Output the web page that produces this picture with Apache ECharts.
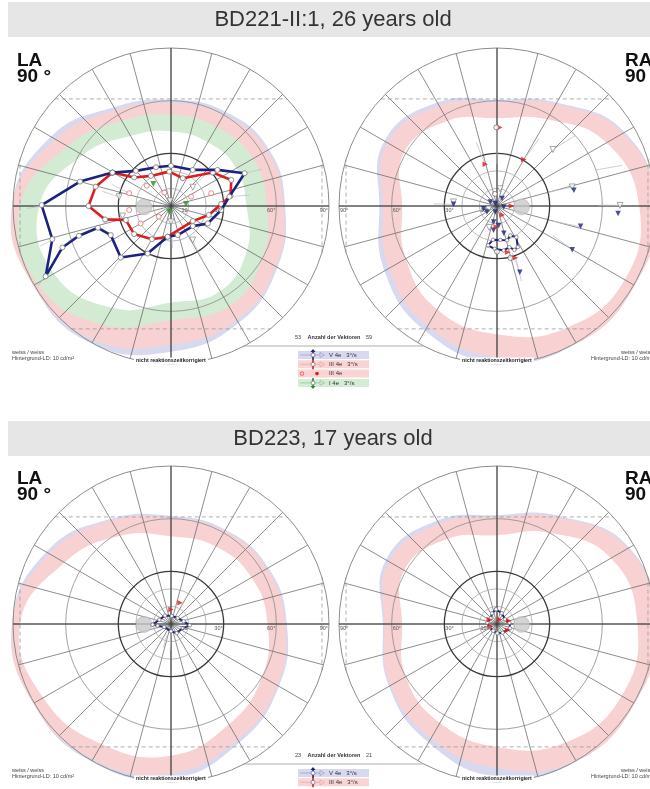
<!DOCTYPE html>
<html><head><meta charset="utf-8">
<script src="https://cdn.jsdelivr.net/npm/echarts/dist/echarts.min.js"></script>
<style>html,body{margin:0;padding:0;background:#fff}#c{width:650px;height:789px}</style>
</head><body><div id="c"></div>
<script>
// ---------------- DATA ----------------
const panelTitles = ['BD221-II:1, 26 years old', 'BD223, 17 years old'];
const eyeNames = ['LA', 'RA', 'LA', 'RA'];
const eyeDegreeText = '90 °';
const ringDegrees = [10, 20, 30, 60];
const ringLabelValues = [10, 30, 60, 90];
const ringLabelTexts = ['10', '30°', '60°', '90°'];
const vectorCounts = [[53, 59], [23, 21]];
const vectorCountTitle = 'Anzahl der Vektoren';
const stimulusLegend = ['V 4e   3°/s', 'III 4e   3°/s', 'III 4e', 'I 4e   3°/s'];
const methodText = ['weiss / weiss', 'Hintergrund-LD: 10 cd/m²'];
const correctionText = 'nicht reaktionszeitkorrigiert';
const limitUp = 61, limitDown = 70, limitSide = 86;

// normal-range bands: eccentricity (deg) at each meridian of bandAngles
const bandAngles = [0, 30, 60, 90, 120, 150, 180, 210, 240, 270, 300, 330];
const tlBlue  = [65, 64.5, 62, 60.5, 65, 79, 95, 100, 94, 83, 77, 70];
const tlPink  = [64, 63, 60, 58.7, 63, 76, 92, 96, 88, 79, 75, 69];
const tlGreen = [54.5, 54, 52, 52, 56, 68, 86, 88, 78, 65, 66, 60];
const tlWhite = [43, 43, 42, 42.5, 46, 58, 75, 77, 67, 55, 56, 50];
const trBlue  = [96, 84, 68, 60.5, 68, 74, 67, 74, 82, 89, 95, 98];
const trPink  = [95, 83, 67, 59, 66, 72, 65, 71, 79, 86, 92, 96];
const trWhite = [81, 72, 57, 50, 56, 61, 54, 60, 68, 73, 80, 84];
const blBlue  = [66, 64, 62, 61.5, 69, 82, 98, 99, 93, 88, 78, 71];
const blPink  = [65, 63, 61, 60.5, 68, 80, 96, 95, 89, 85, 76, 70];
const blWhite = [55, 53, 51, 50, 58, 70, 86, 84, 79, 75, 66, 60];
const brBlue  = [95, 87, 71, 62, 68, 73, 65, 71, 78, 87, 95, 97];
const brPink  = [94, 86, 70, 61, 66, 71, 64, 70, 75, 82, 90, 95];
const brWhite = [80, 75, 60, 50.5, 56, 61, 54, 60, 65, 70, 78, 82];

// isopters [eccentricity deg, meridian deg]
const tlV4e = [[38.4,150.3],[28.3,135],[23.7,111.2],[22.9,90],[24,58.9],[33.5,37.9],[45.9,24],[33.7,9.1],[28.7,355.4],[23.2,334.7],[16.9,317.3],[17,283],[17.6,263.8],[30.2,243.8],[41,225.7],[38.1,205.8],[43.4,196.6],[55.1,197.9],[66.2,200.9],[81.9,209.3],[70.2,195.6],[73.7,179.6],[53.7,165]];
const tlIII4e = [[38.4,150.3],[26.5,142.3],[20.6,123.7],[19.6,92.8],[17.2,67.1],[30.5,38.6],[37.4,23.4],[34.4,9.6],[28.6,2.3],[22.1,346.6],[15.1,325.3],[17.6,263.8],[21.8,240.1],[26.4,217.3],[26.9,197.3],[38.3,191.5],[47,180],[44.3,165.6]];
const trV4e = [[23,257.1],[19.4,263.2],[19.4,275.6],[20.4,286.3],[18.4,294.4],[20.9,301.9],[26.2,296.8],[26.9,291.6],[24.5,286.7],[25.6,278.6],[24.4,266.9]];
const blV4e = [[10.5,182],[7.1,159.8],[5.9,125.8],[4.6,85],[5.1,41.8],[7.4,12],[10.7,356],[7.1,341],[6.1,302.3],[4.2,270],[4.2,204],[7.7,187]];
const brV4e = [[8.4,93.9],[6.7,115],[4.9,138],[5.6,172],[4.8,203],[4.4,241],[5.3,272],[5.9,303],[7.8,341.7],[7.1,6],[5.3,30],[6.7,66.3]];

// blind spots
const blindSpots = [[15.4,182],[14,358],[15.4,181],[14,359]];

// single vectors / stimuli
const tlHollowTri = [[30,169.8],[16.4,40.7],[28.2,191.7],[9,270],[23,302.5],[3,100]];
const tlRedRings = [[24.9,163],[8.5,116.7],[12.6,25],[24,17.6],[9.3,221],[23.9,185.5],[18,140],[20,210]];
const tlGreenTri = [[16.1,128.8],[8.6,7.6],[3.4,253]];
const trBlueTri = [[44.7,11.6],[69.1,356.4],[49,346.3],[49.6,329.8],[39.9,289],[24.8,177.8],[4.4,149],[1.7,126],[7.8,191.5],[6.7,211],[3.6,254],[5.1,55.6],[3.9,351.5],[9.3,258],[11.1,275],[14,262],[16,284]];
const trRedTri = [[44.8,88],[30.6,60],[24.7,105.7],[8.2,0],[31.3,289.5],[6,300],[12,268],[27,283]];
const trWhiteDots = [[44.8,90.5],[30.5,284.4],[7,100],[26,270]];
const trHollowTri = [[45.3,45.3],[70.1,0.3],[24.9,174.7],[44.2,14.2],[10,80],[5,200],[13,250]];
const blRedTri = [[8.2,90],[13.1,66.8]];
const brRedTri = [[5,150],[4,200],[7,15],[7,330],[3,60]];
// vector traces [ecc1, mer1, ecc2, mer2]
const tlVectors = [[46,24,56,22],[73.7,180,82,181],[82,209,88,211],[30,170,40,168],[16.4,41,30,43],[23,302,38,300],[9,270,24,272],[28.2,192,40,194],[25,163,36,160],[33.7,9,45,8],[41,226,52,228],[54,197,62,199],[70,196,78,197]];
const trVectors = [[44.8,90,24,90],[45.3,45.3,60,42],[70.1,0.3,58,0.5],[44.2,14.2,30,15],[49,346,33,345],[49.6,330,36,332],[39.9,289,28,288],[24.8,178,36,178],[30.6,60,45,58],[24.7,106,38,108],[60,20,75,18],[31,290,45,288]];
const blVectors = [[5,270,15,268],[6,250,14,252]];
const brVectors = [[4,200,9,205]];

// ---------------- LAYOUT ----------------
const CENTERS = [[171,206],[497,206],[171,624],[497,624]];
const R = 158, MAXDEG = 90;
const NAVY = '#1b2380', RED = '#e01b1b', GREEN = '#2a8f2a';
const FONT = '"Liberation Sans", Arial, sans-serif';

const panels = [
  {bands:[[tlBlue,'#d8d8ef'],[tlPink,'#f8d2d2'],[tlGreen,'#d3ebd3'],[tlWhite,'#ffffff']], V4e:tlV4e, III4e:tlIII4e, vectors:tlVectors,
   scat:[[tlHollowTri,'hollowTri'],[tlRedRings,'redRing'],[tlGreenTri,'greenTri']]},
  {bands:[[trBlue,'#d8d8ef'],[trPink,'#f8d2d2'],[trWhite,'#ffffff']], V4e:trV4e, vectors:trVectors,
   scat:[[trHollowTri,'hollowTri'],[trBlueTri,'blueTri'],[trRedTri,'redTri'],[trWhiteDots,'whiteDot']]},
  {bands:[[blBlue,'#d8d8ef'],[blPink,'#f8d2d2'],[blWhite,'#ffffff']], V4e:blV4e, vectors:blVectors,
   scat:[[blRedTri,'redTri']]},
  {bands:[[brBlue,'#d8d8ef'],[brPink,'#f8d2d2'],[brWhite,'#ffffff']], V4e:brV4e, vectors:brVectors,
   scat:[[brRedTri,'redTri']]}
];

const scatStyles = {
  hollowTri:{symbol:'triangle', rot:180, size:6, item:{color:'#fff', borderColor:'#777', borderWidth:0.8}},
  redRing:{symbol:'circle', rot:0, size:5, item:{color:'#fff', borderColor:'#e56060', borderWidth:0.9}},
  greenTri:{symbol:'triangle', rot:180, size:6, item:{color:GREEN}},
  blueTri:{symbol:'triangle', rot:180, size:5.5, item:{color:NAVY}},
  redTri:{symbol:'triangle', rot:-90, size:5.5, item:{color:RED}},
  whiteDot:{symbol:'circle', rot:0, size:5, item:{color:'#fff', borderColor:'#555', borderWidth:0.8}}
};

function toPolar(x, y){ const r=Math.hypot(x,y); let a=Math.atan2(y,x)*180/Math.PI; if(a<0)a+=360; return [r,a]; }
function closeRing(arr){ return arr.concat([arr[0]]); }

const series = [];
panels.forEach((p, pi) => {
  // bands
  series.push({type:'custom', coordinateSystem:'polar', polarIndex:pi, z:1, silent:true,
    data:p.bands.map((b,i)=>[i,0]),
    renderItem:(params, api)=>{
      const b = p.bands[params.dataIndex];
      const pts = bandAngles.map((a,k)=>api.coord([Math.min(b[0][k], 90.5), a]));
      return {type:'polygon', z2:params.dataIndex, shape:{points:pts, smooth:0.45}, style:{fill:b[1]}};
    }});
  // dashed limit chords
  const chords = [
    [-Math.sqrt(MAXDEG*MAXDEG-limitUp*limitUp), limitUp, Math.sqrt(MAXDEG*MAXDEG-limitUp*limitUp), limitUp],
    [-Math.sqrt(MAXDEG*MAXDEG-limitDown*limitDown), -limitDown, Math.sqrt(MAXDEG*MAXDEG-limitDown*limitDown), -limitDown],
    [limitSide, -Math.sqrt(MAXDEG*MAXDEG-limitSide*limitSide), limitSide, Math.sqrt(MAXDEG*MAXDEG-limitSide*limitSide)],
    [-limitSide, -Math.sqrt(MAXDEG*MAXDEG-limitSide*limitSide), -limitSide, Math.sqrt(MAXDEG*MAXDEG-limitSide*limitSide)]
  ];
  series.push({type:'custom', coordinateSystem:'polar', polarIndex:pi, z:2, silent:true,
    data:chords.map((c,i)=>[i,0]),
    renderItem:(params, api)=>{
      const c = chords[params.dataIndex];
      const a = api.coord(toPolar(c[0],c[1])), b = api.coord(toPolar(c[2],c[3]));
      return {type:'line', shape:{x1:a[0],y1:a[1],x2:b[0],y2:b[1]}, style:{stroke:'#9a9a9a', lineWidth:0.8, lineDash:[4,3]}};
    }});
  // ring circles + main cross
  series.push({type:'custom', coordinateSystem:'polar', polarIndex:pi, z:3, silent:true,
    data:ringDegrees.map(d=>[d,0]).concat([[MAXDEG,0],[MAXDEG,90],[MAXDEG,180],[MAXDEG,270]]),
    renderItem:(params, api)=>{
      const c = api.coord([0,0]);
      if (params.dataIndex < ringDegrees.length) {
        const d = api.value(0), q = api.coord([d,0]);
        const r = Math.hypot(q[0]-c[0], q[1]-c[1]);
        const dark = d === 30;
        return {type:'circle', shape:{cx:c[0], cy:c[1], r:r}, style:{fill:null, stroke: dark?'#3a3a3a':(d===60?'#8a8a8a':'#a8a8a8'), lineWidth: dark?1.3:0.8}};
      }
      const e = api.coord([api.value(0), api.value(1)]);
      return {type:'line', shape:{x1:c[0],y1:c[1],x2:e[0],y2:e[1]}, style:{stroke:'#3c3c3c', lineWidth:1}};
    }});
  // vector traces
  series.push({type:'custom', coordinateSystem:'polar', polarIndex:pi, z:4, silent:true,
    data:p.vectors.map(v=>[v[0],v[1]]),
    renderItem:(params, api)=>{
      const v = p.vectors[params.dataIndex];
      const a = api.coord([v[0],v[1]]), b = api.coord([v[2],v[3]]);
      return {type:'line', shape:{x1:a[0],y1:a[1],x2:b[0],y2:b[1]}, style:{stroke:'#c2c2cf', lineWidth:0.8}};
    }});
  // blind spot
  series.push({type:'scatter', coordinateSystem:'polar', polarIndex:pi, z:4, silent:true,
    data:[blindSpots[pi]], symbol:'circle', symbolSize:16, itemStyle:{color:'#c9c9c9', borderColor:'#aaa', borderWidth:0.6}});
  // isopters
  if (p.III4e) series.push({type:'line', coordinateSystem:'polar', polarIndex:pi, z:6, silent:true,
    data:closeRing(p.III4e), symbol:'circle', symbolSize:5, showAllSymbol:true,
    lineStyle:{color:RED, width:2.6}, itemStyle:{color:'#fff', borderColor:'#777', borderWidth:0.8}});
  series.push({type:'line', coordinateSystem:'polar', polarIndex:pi, z:7, silent:true,
    data:closeRing(p.V4e), symbol:'circle', symbolSize: pi===0?5:3.5, showAllSymbol:true,
    lineStyle:{color:NAVY, width: pi===0?2.6:2}, itemStyle:{color:'#fff', borderColor:'#777', borderWidth:0.8}});
  // single stimuli
  p.scat.forEach(s=>{
    const st = scatStyles[s[1]];
    series.push({type:'scatter', coordinateSystem:'polar', polarIndex:pi, z:8, silent:true,
      data:s[0], symbol:st.symbol, symbolRotate:st.rot, symbolSize:st.size, itemStyle:st.item});
  });
});

// ---------------- GRAPHIC (text & furniture) ----------------
const graphic = [];
[0, 418].forEach((dy, k) => {
  const barTop = k===0 ? 2 : 421;
  graphic.push({type:'rect', z:50, shape:{x:8, y:barTop, width:650, height:35}, style:{fill:'#e6e6e6'}});
  graphic.push({type:'text', z:51, style:{text:panelTitles[k], x:333, y:barTop+18, align:'center', verticalAlign:'middle', font:'22px '+FONT, fill:'#333'}});
  // vector counts
  graphic.push({type:'text', z:51, style:{text:String(vectorCounts[k][0]), x:301, y:337+dy, align:'right', verticalAlign:'middle', font:'5.5px '+FONT, fill:'#444'}});
  graphic.push({type:'text', z:51, style:{text:vectorCountTitle, x:334, y:337+dy, align:'center', verticalAlign:'middle', font:'bold 5.5px '+FONT, fill:'#333'}});
  graphic.push({type:'text', z:51, style:{text:String(vectorCounts[k][1]), x:366, y:337+dy, align:'left', verticalAlign:'middle', font:'5.5px '+FONT, fill:'#444'}});
  graphic.push({type:'line', z:51, shape:{x1:243, y1:346+dy, x2:423, y2:346+dy}, style:{stroke:'#9a9a9a', lineWidth:0.8}});
  // legend rows
  const fills = ['#d8d8ef','#f9d4d4','#f9d4d4','#d4ecd4'];
  const vcols = [NAVY, RED, null, GREEN];
  const hcols = ['#9c9cc8','#e6a3a3',null,'#8fc48f'];
  const nrows = k===0 ? 4 : 2;
  for (let i=0;i<nrows;i++){
    const y = 351 + dy + i*9.3, yc = y+4;
    graphic.push({type:'rect', z:51, shape:{x:298, y:y, width:71, height:8}, style:{fill:fills[i]}});
    if (i !== 2) {
      graphic.push({type:'line', z:52, shape:{x1:300,y1:yc,x2:320,y2:yc}, style:{stroke:hcols[i], lineWidth:0.7}});
      graphic.push({type:'line', z:52, shape:{x1:313,y1:y-1,x2:313,y2:y+9}, style:{stroke:vcols[i], lineWidth:1.6}});
      graphic.push({type:'circle', z:53, shape:{cx:313, cy:yc, r:2}, style:{fill:'#fff', stroke:'#555', lineWidth:0.6}});
      graphic.push({type:'polygon', z:52, shape:{points:[[320,yc-2.5],[320,yc+2.5],[324.5,yc]]}, style:{fill:'none', stroke:hcols[i], lineWidth:0.7}});
      if (i===0) graphic.push({type:'polygon', z:53, shape:{points:[[310.5,y+1],[315.5,y+1],[313,y-2]]}, style:{fill:NAVY}});
      if (i===3) graphic.push({type:'polygon', z:53, shape:{points:[[310.5,y+7],[315.5,y+7],[313,y+10]]}, style:{fill:GREEN}});
    } else {
      graphic.push({type:'circle', z:52, shape:{cx:302, cy:yc, r:1.8}, style:{fill:'none', stroke:RED, lineWidth:0.6}});
      graphic.push({type:'circle', z:52, shape:{cx:317, cy:yc, r:1.8}, style:{fill:RED}});
    }
    graphic.push({type:'text', z:53, style:{text:stimulusLegend[i], x:329, y:yc, align:'left', verticalAlign:'middle', font:'6px '+FONT, fill:'#333'}});
  }
  // method texts
  graphic.push({type:'text', z:51, style:{text:methodText[0], x:12, y:352+dy, align:'left', verticalAlign:'middle', font:'5.5px '+FONT, fill:'#444'}});
  graphic.push({type:'text', z:51, style:{text:methodText[1], x:12, y:358.5+dy, align:'left', verticalAlign:'middle', font:'5.5px '+FONT, fill:'#444'}});
  graphic.push({type:'text', z:51, style:{text:methodText[0], x:653, y:352+dy, align:'right', verticalAlign:'middle', font:'5.5px '+FONT, fill:'#444'}});
  graphic.push({type:'text', z:51, style:{text:methodText[1], x:653, y:358.5+dy, align:'right', verticalAlign:'middle', font:'5.5px '+FONT, fill:'#444'}});
});

CENTERS.forEach((c, pi) => {
  const left = (pi % 2) === 0;
  // eye labels
  const ex = left ? 17 : 625;
  graphic.push({type:'text', z:51, style:{text:eyeNames[pi], x:ex, y:c[1]-145, align:'left', verticalAlign:'middle', font:'bold 19px '+FONT, fill:'#111'}});
  graphic.push({type:'text', z:51, style:{text:eyeDegreeText, x:ex, y:c[1]-129, align:'left', verticalAlign:'middle', font:'bold 19px '+FONT, fill:'#111'}});
  // ring labels along horizontal meridian
  ringLabelValues.forEach((v, i) => {
    const off = v * R / MAXDEG;
    graphic.push({type:'text', z:45, style:{text:ringLabelTexts[i], x: left ? c[0]+off-1 : c[0]-off+1, y:c[1]+4, align: left?'right':'left', verticalAlign:'middle', font:'5.5px '+FONT, fill:'#555'}});
  });
  // correction note
  graphic.push({type:'text', z:51, style:{text:correctionText, x:c[0], y:c[1]+155, align:'center', verticalAlign:'middle', font:'bold 5.3px '+FONT, fill:'#222', backgroundColor:'#fff', padding:[1,2]}});
});

const option = {
  animation:false,
  polar: CENTERS.map(c=>({center:c, radius:R})),
  angleAxis: CENTERS.map((c,i)=>({polarIndex:i, type:'value', min:0, max:360, interval:15, startAngle:0, clockwise:false, z:2,
    axisLine:{show:true, lineStyle:{color:'#8c8c8c', width:1}}, axisTick:{show:false}, axisLabel:{show:false},
    splitLine:{show:true, lineStyle:{color:'#5c5c5c', width:0.7}}})),
  radiusAxis: CENTERS.map((c,i)=>({polarIndex:i, type:'value', min:0, max:MAXDEG, interval:10,
    axisLine:{show:false}, axisTick:{show:false}, axisLabel:{show:false}, splitLine:{show:false}})),
  series: series,
  graphic: graphic
};
const chart = echarts.init(document.getElementById('c'), null, {renderer:'canvas', width:650, height:789});
chart.setOption(option);
</script></body></html>
